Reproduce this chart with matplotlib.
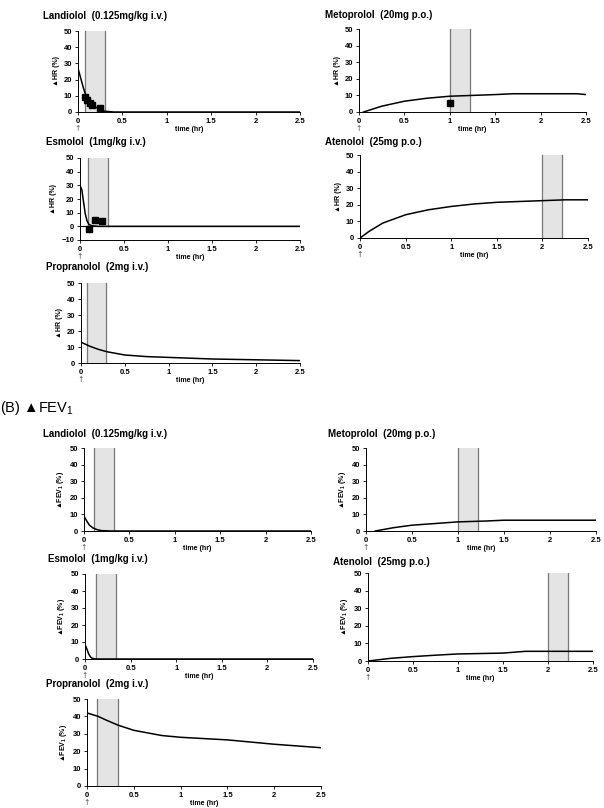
import matplotlib.pyplot as plt
import matplotlib.transforms as mtransforms

plt.rcParams['font.family'] = ['Liberation Sans', 'DejaVu Sans']

W, H = 604, 808

# ---- data: (A) delta HR ----
lan_hr_t = [0.0, 0.03, 0.06, 0.09, 0.12, 0.16, 0.2, 0.25, 0.3, 0.4, 1.0, 2.5]
lan_hr_v = [27, 21, 15, 10, 7, 4.5, 3, 1.5, 0.5, 0, 0, 0]
lan_hr_pt_t = [0.08, 0.1, 0.13, 0.16, 0.25]
lan_hr_pt_v = [9, 7.5, 5.5, 4.5, 2.5]

met_hr_t = [0.05, 0.25, 0.5, 0.75, 1.0, 1.25, 1.5, 1.7, 2.0, 2.4, 2.5]
met_hr_v = [0, 3.5, 6.5, 8.3, 9.5, 10, 10.5, 11, 11, 11, 10.5]
met_hr_pt_t = [1.0]
met_hr_pt_v = [5.5]

esm_hr_t = [0.0, 0.02, 0.04, 0.06, 0.08, 0.1, 0.13, 0.2, 1.0, 2.5]
esm_hr_v = [30, 27, 18, 9, 4, 1.5, 0.5, 0, 0, 0]
esm_hr_pt_t = [0.1, 0.17, 0.25]
esm_hr_pt_v = [-2, 4.5, 4]

ate_hr_t = [0.0, 0.1, 0.25, 0.5, 0.75, 1.0, 1.25, 1.5, 1.75, 2.0, 2.25, 2.5]
ate_hr_v = [0, 4, 9, 14, 17, 19, 20.5, 21.5, 22, 22.5, 23, 23]

pro_hr_t = [0.0, 0.1, 0.2, 0.3, 0.5, 0.75, 1.0, 1.5, 2.0, 2.5]
pro_hr_v = [13, 10.5, 8.5, 7, 5, 4, 3.5, 2.5, 2, 1.5]

# ---- data: (B) delta FEV1 ----
lan_fev_t = [0.0, 0.03, 0.06, 0.1, 0.15, 0.2, 0.3, 2.5]
lan_fev_v = [9, 6, 3.5, 1.8, 0.7, 0.2, 0, 0]

met_fev_t = [0.1, 0.3, 0.5, 0.75, 1.0, 1.3, 1.5, 2.0, 2.5]
met_fev_v = [0, 2, 3.5, 4.5, 5.5, 6, 6.5, 6.5, 6.5]

esm_fev_t = [0.0, 0.02, 0.04, 0.06, 0.08, 0.12, 2.5]
esm_fev_v = [8.5, 6, 3, 1.2, 0.4, 0, 0]

ate_fev_t = [0.0, 0.25, 0.5, 0.75, 1.0, 1.5, 1.75, 2.0, 2.5]
ate_fev_v = [0, 1.5, 2.5, 3.3, 4, 4.5, 5.5, 5.5, 5.5]

pro_fev_t = [0.0, 0.12, 0.2, 0.33, 0.5, 0.8, 1.0, 1.5, 2.0, 2.5]
pro_fev_v = [42, 40, 38, 35, 32, 29, 28, 26.5, 24, 22]

# dosing windows (hr)
win_lan_hr = (0.08, 0.30)
win_esm_hr = (0.09, 0.32)
win_pro_hr = (0.07, 0.29)
win_lan_fev = (0.11, 0.33)
win_esm_fev = (0.12, 0.34)
win_pro_fev = (0.11, 0.33)
win_met = (1.0, 1.22)
win_ate = (2.0, 2.22)

fig = plt.figure(figsize=(W / 100, H / 100), dpi=100)


def panel(box, title, title_xy, ylabel, t, v, win, ylim=(0, 50), pts=None):
    x0, x1, ytop, ybot = box
    ax = fig.add_axes([x0 / W, 1 - ybot / H, (x1 - x0) / W, (ybot - ytop) / H])
    ax.fill_between(win, 0, 50, color='#e4e4e4', zorder=1)
    ymin_frac = (0 - ylim[0]) / (ylim[1] - ylim[0])
    ax.axvline(win[0], ymin=ymin_frac, color='#7a7a7a', lw=0.9, zorder=2)
    ax.axvline(win[1], ymin=ymin_frac, color='#7a7a7a', lw=0.9, zorder=2)
    ax.plot(t, v, color='black', lw=1.1, zorder=3)
    if ylim[0] < 0:
        ax.axhline(0, color='black', lw=0.8, zorder=3)
    if pts is not None:
        ax.plot(pts[0], pts[1], 's', color='black', ms=4, zorder=4)
    ax.set_xlim(0, 2.5)
    ax.set_ylim(*ylim)
    ax.set_xticks([0, 0.5, 1, 1.5, 2, 2.5])
    ax.set_xticklabels(['0', '0.5', '1', '1.5', '2', '2.5'])
    ax.set_yticks(range(ylim[0], 51, 10))
    for s in ['top', 'right']:
        ax.spines[s].set_visible(False)
    for s in ['left', 'bottom']:
        ax.spines[s].set_linewidth(0.7)
    ax.tick_params(direction='out', length=2, width=0.6, labelsize=5.5, pad=2)
    for lab in ax.get_xticklabels() + ax.get_yticklabels():
        lab.set_fontweight('bold')
    ax.set_xlabel('time (hr)', fontsize=5, fontweight='bold', labelpad=1)
    ax.set_ylabel(ylabel, fontsize=5, fontweight='bold', labelpad=3)
    # dosing arrow under t = 0
    trans = mtransforms.blended_transform_factory(ax.transData, ax.transAxes)
    off = mtransforms.ScaledTranslation(0, -8.5 / 72, fig.dpi_scale_trans)
    ax.text(0, 0, '\u2191', transform=trans + off, ha='center', va='top',
            fontsize=5.5, family='DejaVu Sans', color='#555555')
    fig.text(title_xy[0] / W, 1 - title_xy[1] / H, title, fontsize=7, fontweight='bold',
             ha='left', va='center')
    return ax


hr = '\u25b2HR (%)'
fev = '\u25b2FEV$_\\mathregular{1}$ (%)'

panel((78, 300, 31, 112), 'Landiolol  (0.125mg/kg i.v.)', (43, 16), hr,
      lan_hr_t, lan_hr_v, win_lan_hr, pts=(lan_hr_pt_t, lan_hr_pt_v))
panel((359, 586, 29, 112), 'Metoprolol  (20mg p.o.)', (325, 15), hr,
      met_hr_t, met_hr_v, win_met, pts=(met_hr_pt_t, met_hr_pt_v))
panel((80, 300, 158, 240), 'Esmolol  (1mg/kg i.v.)', (46, 142), hr,
      esm_hr_t, esm_hr_v, win_esm_hr, ylim=(-10, 50), pts=(esm_hr_pt_t, esm_hr_pt_v))
panel((360, 588, 155, 238), 'Atenolol  (25mg p.o.)', (325, 142), hr,
      ate_hr_t, ate_hr_v, win_ate)
panel((81, 300, 283, 363), 'Propranolol  (2mg i.v.)', (46, 267), hr,
      pro_hr_t, pro_hr_v, win_pro_hr)

fig.text(0 / W, 1 - 408 / H, '(B) \u25b2FEV$_\\mathregular{1}$', fontsize=10.5,
         ha='left', va='center', family=['Liberation Sans', 'DejaVu Sans'])

panel((84, 311, 448, 531), 'Landiolol  (0.125mg/kg i.v.)', (43, 434), fev,
      lan_fev_t, lan_fev_v, win_lan_fev)
panel((366, 596, 448, 531), 'Metoprolol  (20mg p.o.)', (328, 434), fev,
      met_fev_t, met_fev_v, win_met)
panel((85, 313, 574, 659), 'Esmolol  (1mg/kg i.v.)', (48, 559), fev,
      esm_fev_t, esm_fev_v, win_esm_fev)
panel((368, 593, 573, 661), 'Atenolol  (25mg p.o.)', (333, 562), fev,
      ate_fev_t, ate_fev_v, win_ate)
panel((87, 321, 699, 786), 'Propranolol  (2mg i.v.)', (46, 684), fev,
      pro_fev_t, pro_fev_v, win_pro_fev)

fig.savefig('out.png', dpi=100)
